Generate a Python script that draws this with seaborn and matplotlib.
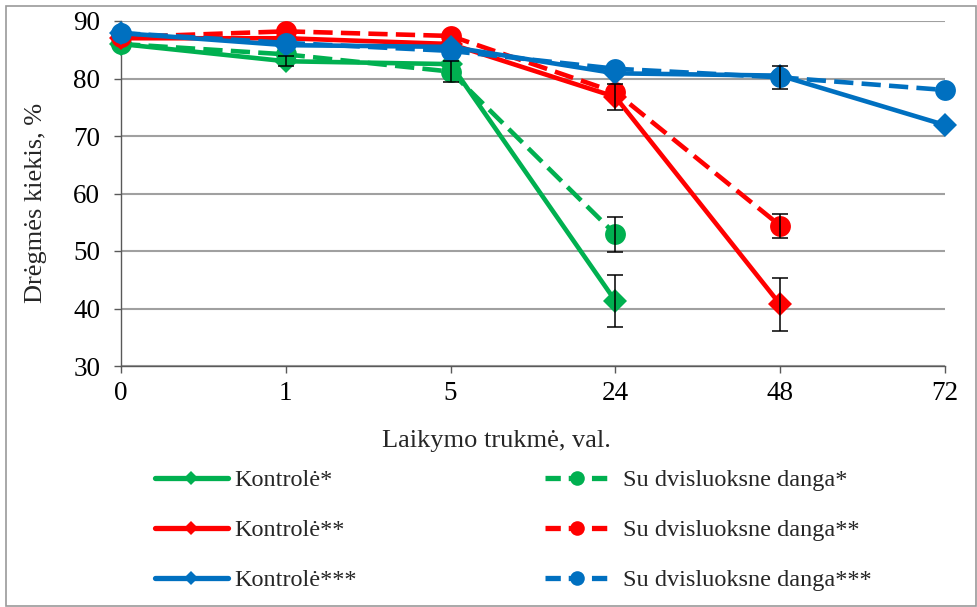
import matplotlib
matplotlib.use("Agg")
import matplotlib.pyplot as plt
import seaborn as sns
import pandas as pd
import numpy as np
from matplotlib.lines import Line2D
from matplotlib.patches import Rectangle

# ---- data ----
categories = ["0", "1", "5", "24", "48", "72"]

kontrole_1 = [86.0, 83.0, 82.5, 41.3, np.nan, np.nan]
danga_1 = [86.0, 84.2, 81.2, 52.9, np.nan, np.nan]
kontrole_2 = [87.0, 87.0, 86.0, 76.8, 40.7, np.nan]
danga_2 = [87.2, 88.2, 87.4, 77.6, 54.4, np.nan]
kontrole_3 = [87.9, 85.8, 85.5, 80.9, 80.5, 71.9]
danga_3 = [87.9, 86.2, 84.8, 81.7, 80.2, 78.0]

err_k1 = [0, 0.9, 0, 4.6, 0, 0]
err_d1 = [0, 0, 1.8, 3.0, 0, 0]
err_k2 = [0, 0, 0, 2.3, 4.6, 0]
err_d2 = [0, 0, 0, 0, 2.1, 0]
err_k3 = [0, 0, 0, 0, 0, 0]
err_d3 = [0, 0, 0, 0, 2.0, 0]

labels = ["Kontrolė*", "Su dvisluoksne danga*",
          "Kontrolė**", "Su dvisluoksne danga**",
          "Kontrolė***", "Su dvisluoksne danga***"]

GREEN, RED, BLUE = "#00B050", "#FF0000", "#0070C0"

series = [
    (labels[0], kontrole_1, err_k1, GREEN, "-", "D"),
    (labels[1], danga_1, err_d1, GREEN, "--", "o"),
    (labels[2], kontrole_2, err_k2, RED, "-", "D"),
    (labels[3], danga_2, err_d2, RED, "--", "o"),
    (labels[4], kontrole_3, err_k3, BLUE, "-", "D"),
    (labels[5], danga_3, err_d3, BLUE, "--", "o"),
]

sns.set_theme(style="white")
plt.rcParams["font.family"] = ["Liberation Serif", "DejaVu Serif"]
FS_TICK = 19.5
FS_LAB = 19
FS_LEG = 17.5

fig = plt.figure(figsize=(9.77, 6.07), dpi=100)
ax = fig.add_axes([121 / 977, 1 - 366 / 607, (945 - 121) / 977, (366 - 21) / 607])

pos = list(range(len(categories)))
for i, (lab, vals, errs, col, ls, mk) in enumerate(series):
    df = pd.DataFrame({"x": pos, "y": vals}).dropna()
    ms = 15 if mk == "o" else 12.5
    sns.lineplot(data=df, x="x", y="y", ax=ax, color=col, linewidth=3.3,
                 marker=mk, markersize=ms, markeredgewidth=0,
                 markeredgecolor=col, legend=False, zorder=3 + i, clip_on=False,
                 dashes=False)
    line = ax.lines[-1]
    if ls == "--":
        line.set_linestyle((0, (4.2, 1.8)))
for (lab, vals, errs, col, ls, mk) in series:
    for x, v, e in zip(pos, vals, errs):
        if e > 0 and not np.isnan(v):
            ax.errorbar(x, v, yerr=e, fmt="none", ecolor="black",
                        elinewidth=1.1, capsize=5.5, capthick=1.1, zorder=20)

ax.set_xlim(0, 5)
ax.set_ylim(30, 90)
ax.set_yticks(range(30, 91, 10))
ax.set_xticks(pos)
ax.set_xticklabels(categories)
ax.yaxis.grid(True, color="#A0A0A0", linewidth=1.5)
ax.xaxis.grid(False)
for s in ["top", "right"]:
    ax.spines[s].set_visible(False)
for s in ["left", "bottom"]:
    ax.spines[s].set_color("#595959")
    ax.spines[s].set_linewidth(1.0)
ax.tick_params(axis="both", which="major", labelsize=FS_TICK, colors="black",
               direction="out", length=5, width=1.0, color="#595959",
               bottom=True, left=True)
ax.tick_params(axis="y", pad=10)
ax.tick_params(axis="x", pad=6)
ax.set_xlabel("Laikymo trukmė, val.", fontsize=FS_LAB)
ax.set_ylabel("Drėgmės kiekis, %", fontsize=FS_LAB)
ax.xaxis.set_label_coords((496 - 121) / 824, (366 - 430) / 345)
ax.yaxis.set_label_coords((47 - 121) / 824, (366 - 203) / 345)
ax.set_axisbelow(True)

def handle(col, ls, mk):
    return Line2D([0], [0], color=col, linewidth=3.8,
                  linestyle="-" if ls == "-" else (0, (2.9, 1.5)),
                  marker="D" if mk == "D" else "o",
                  markersize=7.5 if mk == "D" else 10.5, markeredgewidth=0)

h1 = [handle(*s[3:]) for s in series[0::2]]
h2 = [handle(*s[3:]) for s in series[1::2]]
leg_kw = dict(frameon=False, fontsize=FS_LEG, handlelength=3.0, handletextpad=0.25,
              labelspacing=1.16, borderaxespad=0, borderpad=0, loc="upper left")
fig.legend(h1, labels[0::2], bbox_to_anchor=(155 / 977, 1 - 469 / 607), **leg_kw)
leg_kw2 = dict(leg_kw)
leg_kw2["handletextpad"] = 0.62
leg_kw2["handlelength"] = 2.6
fig.legend(h2, labels[1::2], bbox_to_anchor=(545 / 977, 1 - 469 / 607), **leg_kw2)

fig.patches.append(Rectangle((6 / 977, 1 / 607), 970 / 977, 600 / 607,
                             transform=fig.transFigure, fill=False,
                             edgecolor="#9a9a9a", linewidth=1.2))

fig.savefig("out.png", dpi=100)
